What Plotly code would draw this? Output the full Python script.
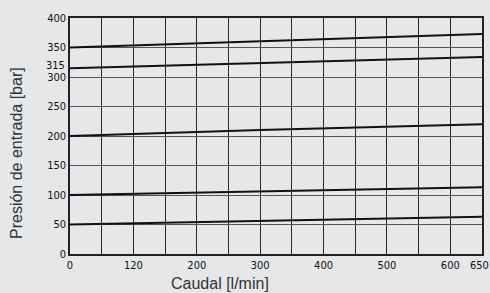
import plotly.graph_objects as go

# Data
flow = [0, 300, 650]                       # Caudal [l/min]
p50 = [50, 56, 63]
p100 = [100, 106, 113]
p200 = [200, 210, 220]
p315 = [315, 324, 334]
p350 = [350, 361, 373]
series = [p50, p100, p200, p315, p350]

x_tickvals = list(range(0, 651, 50))
x_ticktext = ["0", "", "120", "", "200", "", "300", "", "400", "", "500", "", "600", ""]
y_tickvals = list(range(0, 401, 50))
y_ticktext = [str(v) for v in y_tickvals]

BG = "#e6e7e9"
tickfont = dict(family="DejaVu Sans Condensed, Liberation Sans Narrow, sans-serif",
                size=11, color="#111111")

fig = go.Figure()
for s in series:
    fig.add_trace(go.Scatter(x=flow, y=s, mode="lines",
                             line=dict(color="#111111", width=2),
                             showlegend=False, hoverinfo="skip"))

fig.update_layout(
    width=490, height=293,
    paper_bgcolor=BG, plot_bgcolor=BG,
    margin=dict(l=70, r=8, t=18, b=39, autoexpand=False),
    showlegend=False,
    xaxis=dict(range=[0, 650], tickmode="array", tickvals=x_tickvals, ticktext=x_ticktext,
               showgrid=True, gridcolor="#2a2a2a", gridwidth=1.3, automargin=False,
               showline=True, linecolor="#222222", linewidth=1.5, mirror=True,
               zeroline=False, ticks="", tickfont=tickfont, ticklen=0),
    yaxis=dict(range=[0, 400], tickmode="array", tickvals=y_tickvals, ticktext=y_ticktext,
               showgrid=True, gridcolor="#555555", gridwidth=1, automargin=False,
               showline=True, linecolor="#222222", linewidth=1.5, mirror=True,
               zeroline=False, ticks="", tickfont=tickfont),
    annotations=[
        dict(text="315", xref="paper", yref="y", x=0, y=315, xanchor="right", yanchor="middle",
             xshift=-3, yshift=3, showarrow=False, font=tickfont),
        dict(text="650", xref="x", yref="paper", x=650, y=0, xanchor="center", yanchor="top",
             xshift=-3, yshift=-3, showarrow=False, font=tickfont),
        dict(text="Presión de entrada [bar]", xref="paper", yref="paper", x=0, y=0.428,
             xanchor="center", yanchor="middle", xshift=-53, textangle=-90, showarrow=False,
             font=dict(family="Liberation Sans, Arial, sans-serif", size=16, color="#333333")),
        dict(text="Caudal [l/min]", xref="paper", yref="paper", x=0.364, y=0,
             xanchor="center", yanchor="middle", yshift=-29, showarrow=False,
             font=dict(family="Liberation Sans, Arial, sans-serif", size=16, color="#333333")),
    ],
)

fig.write_html("out.html", config={"displayModeBar": False},
               post_script="document.body.style.margin='0px';")
